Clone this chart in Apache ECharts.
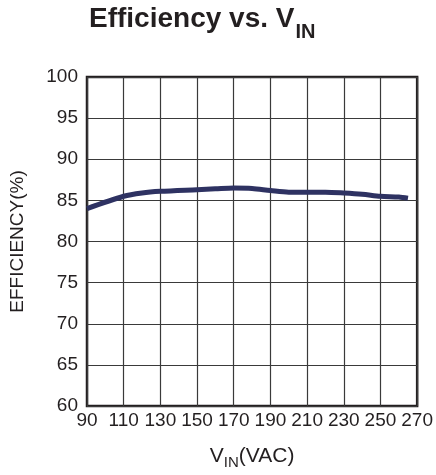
<!DOCTYPE html>
<html>
<head>
<meta charset="utf-8">
<script src="https://cdn.jsdelivr.net/npm/echarts@6/dist/echarts.min.js"></script>
<style>
html,body{margin:0;padding:0;background:#fff;}
#c{width:436px;height:475px;}
</style>
</head>
<body>
<div id="c"></div>
<script>
const vin = [90, 110, 120, 130, 150, 160, 170, 180, 190, 200, 210, 220, 230, 240, 250, 260, 265];
const efficiency = [84.0, 85.5, 85.9, 86.1, 86.3, 86.4, 86.5, 86.45, 86.2, 86.0, 86.0, 86.0, 85.9, 85.75, 85.5, 85.4, 85.25];
const xTicks = [90, 110, 130, 150, 170, 190, 210, 230, 250, 270];
const yTicks = [60, 65, 70, 75, 80, 85, 90, 95, 100];

const font = 'Liberation Sans, Arial, sans-serif';
const ink = '#231f20';
const chart = echarts.init(document.getElementById('c'), null, {renderer: 'canvas'});
chart.setOption({
  animation: false,
  title: {
    text: '{a|Efficiency vs. V}{b|IN}',
    left: 84,
    top: 0,
    textStyle: {
      rich: {
        a: {fontFamily: font, fontWeight: 'bold', fontSize: 28, color: ink, verticalAlign: 'bottom'},
        b: {fontFamily: font, fontWeight: 'bold', fontSize: 20, color: ink, padding: [0, 0, -9, 1], verticalAlign: 'bottom'}
      }
    }
  },
  grid: {left: 86, right: 16, top: 77, bottom: 64, show: true, borderColor: ink, borderWidth: 2.5},
  xAxis: {
    type: 'value',
    min: xTicks[0], max: xTicks[xTicks.length - 1], interval: 20,
    name: '{a|V}{b|IN}{a|(VAC)}',
    nameLocation: 'middle',
    nameGap: 37,
    nameTextStyle: {
      rich: {
        a: {fontFamily: font, fontSize: 21, color: ink},
        b: {fontFamily: font, fontSize: 15, color: ink, padding: [12, 0, 0, 0]}
      }
    },
    axisLine: {show: false},
    axisTick: {show: false},
    axisLabel: {fontFamily: font, fontSize: 19, color: ink, margin: 5},
    splitLine: {show: true, lineStyle: {color: '#3a3a3a', width: 1.2}}
  },
  yAxis: {
    type: 'value',
    min: yTicks[0], max: yTicks[yTicks.length - 1], interval: 5,
    name: 'EFFICIENCY(%)',
    nameLocation: 'middle',
    nameGap: 60,
    nameTextStyle: {fontFamily: font, fontSize: 19, color: ink},
    axisLine: {show: false},
    axisTick: {show: false},
    axisLabel: {fontFamily: font, fontSize: 19, color: ink, margin: 9},
    splitLine: {show: true, lineStyle: {color: '#3a3a3a', width: 1.2}}
  },
  series: [{
    type: 'line',
    data: vin.map((v, i) => [v, efficiency[i]]),
    showSymbol: false,
    smooth: 0.3,
    lineStyle: {color: '#2e3262', width: 5},
    clip: false
  }]
});
</script>
</body>
</html>
